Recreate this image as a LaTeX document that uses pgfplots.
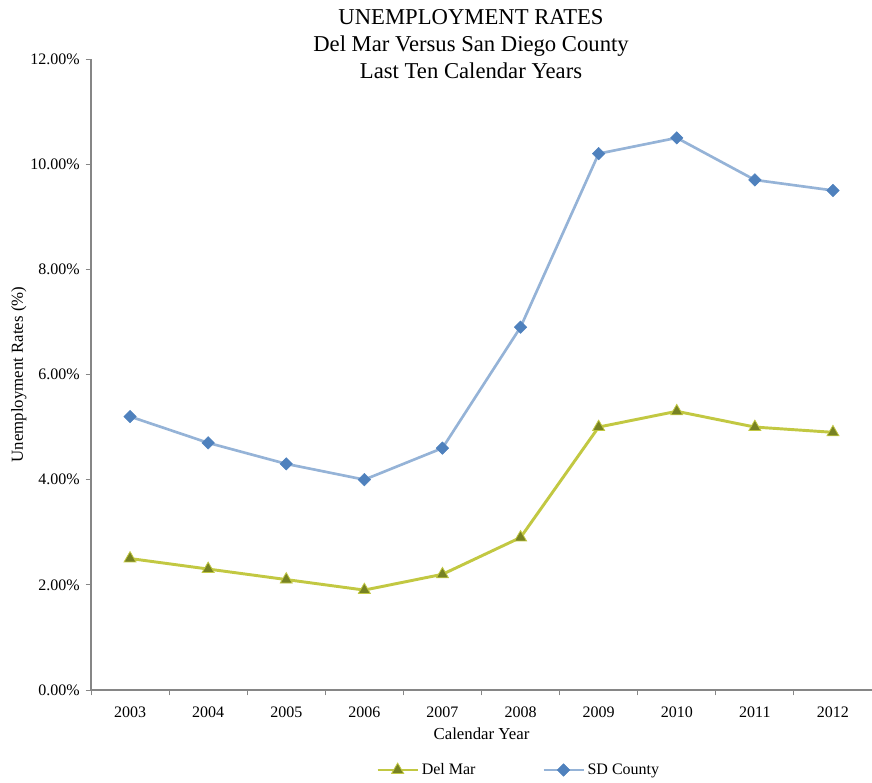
\documentclass[border=0pt]{standalone}
\usepackage{fontspec}
\setmainfont{Liberation Serif}
\usepackage{pgfplots}
\pgfplotsset{compat=1.18}

\definecolor{sdline}{RGB}{149,179,215}
\definecolor{sdmark}{RGB}{79,129,189}
\definecolor{dmline}{RGB}{194,200,66}
\definecolor{dmmark}{RGB}{119,130,35}
\definecolor{axgray}{RGB}{134,134,134}

\begin{document}
\begin{tikzpicture}
\begin{axis}[
    scale only axis,
    width=585.75pt,
    height=473.25pt,
    xmin=-0.5, xmax=9.5,
    ymin=0, ymax=12,
    axis lines=left,
    axis line style={-, draw=axgray, line width=0.8pt},
    xtick={0,...,9},
    xticklabels={2003,2004,2005,2006,2007,2008,2009,2010,2011,2012},
    xtick style={draw=none},
    minor xtick={-0.5,0.5,...,9.5},
    minor x tick style={draw=axgray, line width=0.7pt},
    ytick={0,2,...,12},
    ytick style={draw=axgray, line width=0.7pt},
    tick align=outside,
    major tick length=4pt,
    minor tick length=4pt,
    yticklabel={\pgfmathprintnumber[fixed,fixed zerofill,precision=2]{\tick}\%},
    /pgf/number format/assume math mode=true,
    ticklabel style={font=\fontsize{12}{14}\selectfont},
    xticklabel style={yshift=-5pt},
    yticklabel style={xshift=-1pt},
    label style={font=\fontsize{12.6}{14}\selectfont},
    xlabel={Calendar Year},
    xlabel style={yshift=-1pt},
    ylabel={Unemployment Rates (\%)},
    ylabel style={yshift=-4pt},
    title={UNEMPLOYMENT RATES\\Del Mar Versus San Diego County\\Last Ten Calendar Years},
    title style={at={(0.4866,1)}, anchor=north, yshift=31pt, align=center,
        inner sep=0pt, font=\fontsize{17}{20.25}\selectfont},
    legend columns=2,
    legend style={at={(0.548,0)}, anchor=center, yshift=-60pt, draw=none,
        font=\fontsize{12}{14}\selectfont,
        /tikz/every even column/.append style={column sep=48pt}},
    legend image code/.code={
        \draw[mark repeat=2, mark phase=2, #1] plot coordinates {(0pt,0pt) (15pt,0pt) (30pt,0pt)};},
    legend cell align=left,
    clip=false,
]
\addplot[dmline, line width=2.2pt, mark=triangle*, mark size=5.2pt,
    mark options={fill=dmmark, draw=dmline, line width=0.6pt}]
    coordinates {(0,2.5) (1,2.3) (2,2.1) (3,1.9) (4,2.2) (5,2.9) (6,5.0) (7,5.3) (8,5.0) (9,4.9)};
\addlegendentry{Del Mar}
\addplot[sdline, line width=2pt, mark=square*, mark size=3.3pt,
    mark options={fill=sdmark, draw=sdmark, rotate=45, line width=0.4pt}]
    coordinates {(0,5.2) (1,4.7) (2,4.3) (3,4.0) (4,4.6) (5,6.9) (6,10.2) (7,10.5) (8,9.7) (9,9.5)};
\addlegendentry{SD County}
\end{axis}
\pgfresetboundingbox
\path (current axis.south west) ++(-68.25pt,-69.75pt) coordinate (bl);
\path (current axis.north east) ++(0pt,44.25pt) coordinate (tr);
\path (bl) rectangle (tr);
\end{tikzpicture}
\end{document}
